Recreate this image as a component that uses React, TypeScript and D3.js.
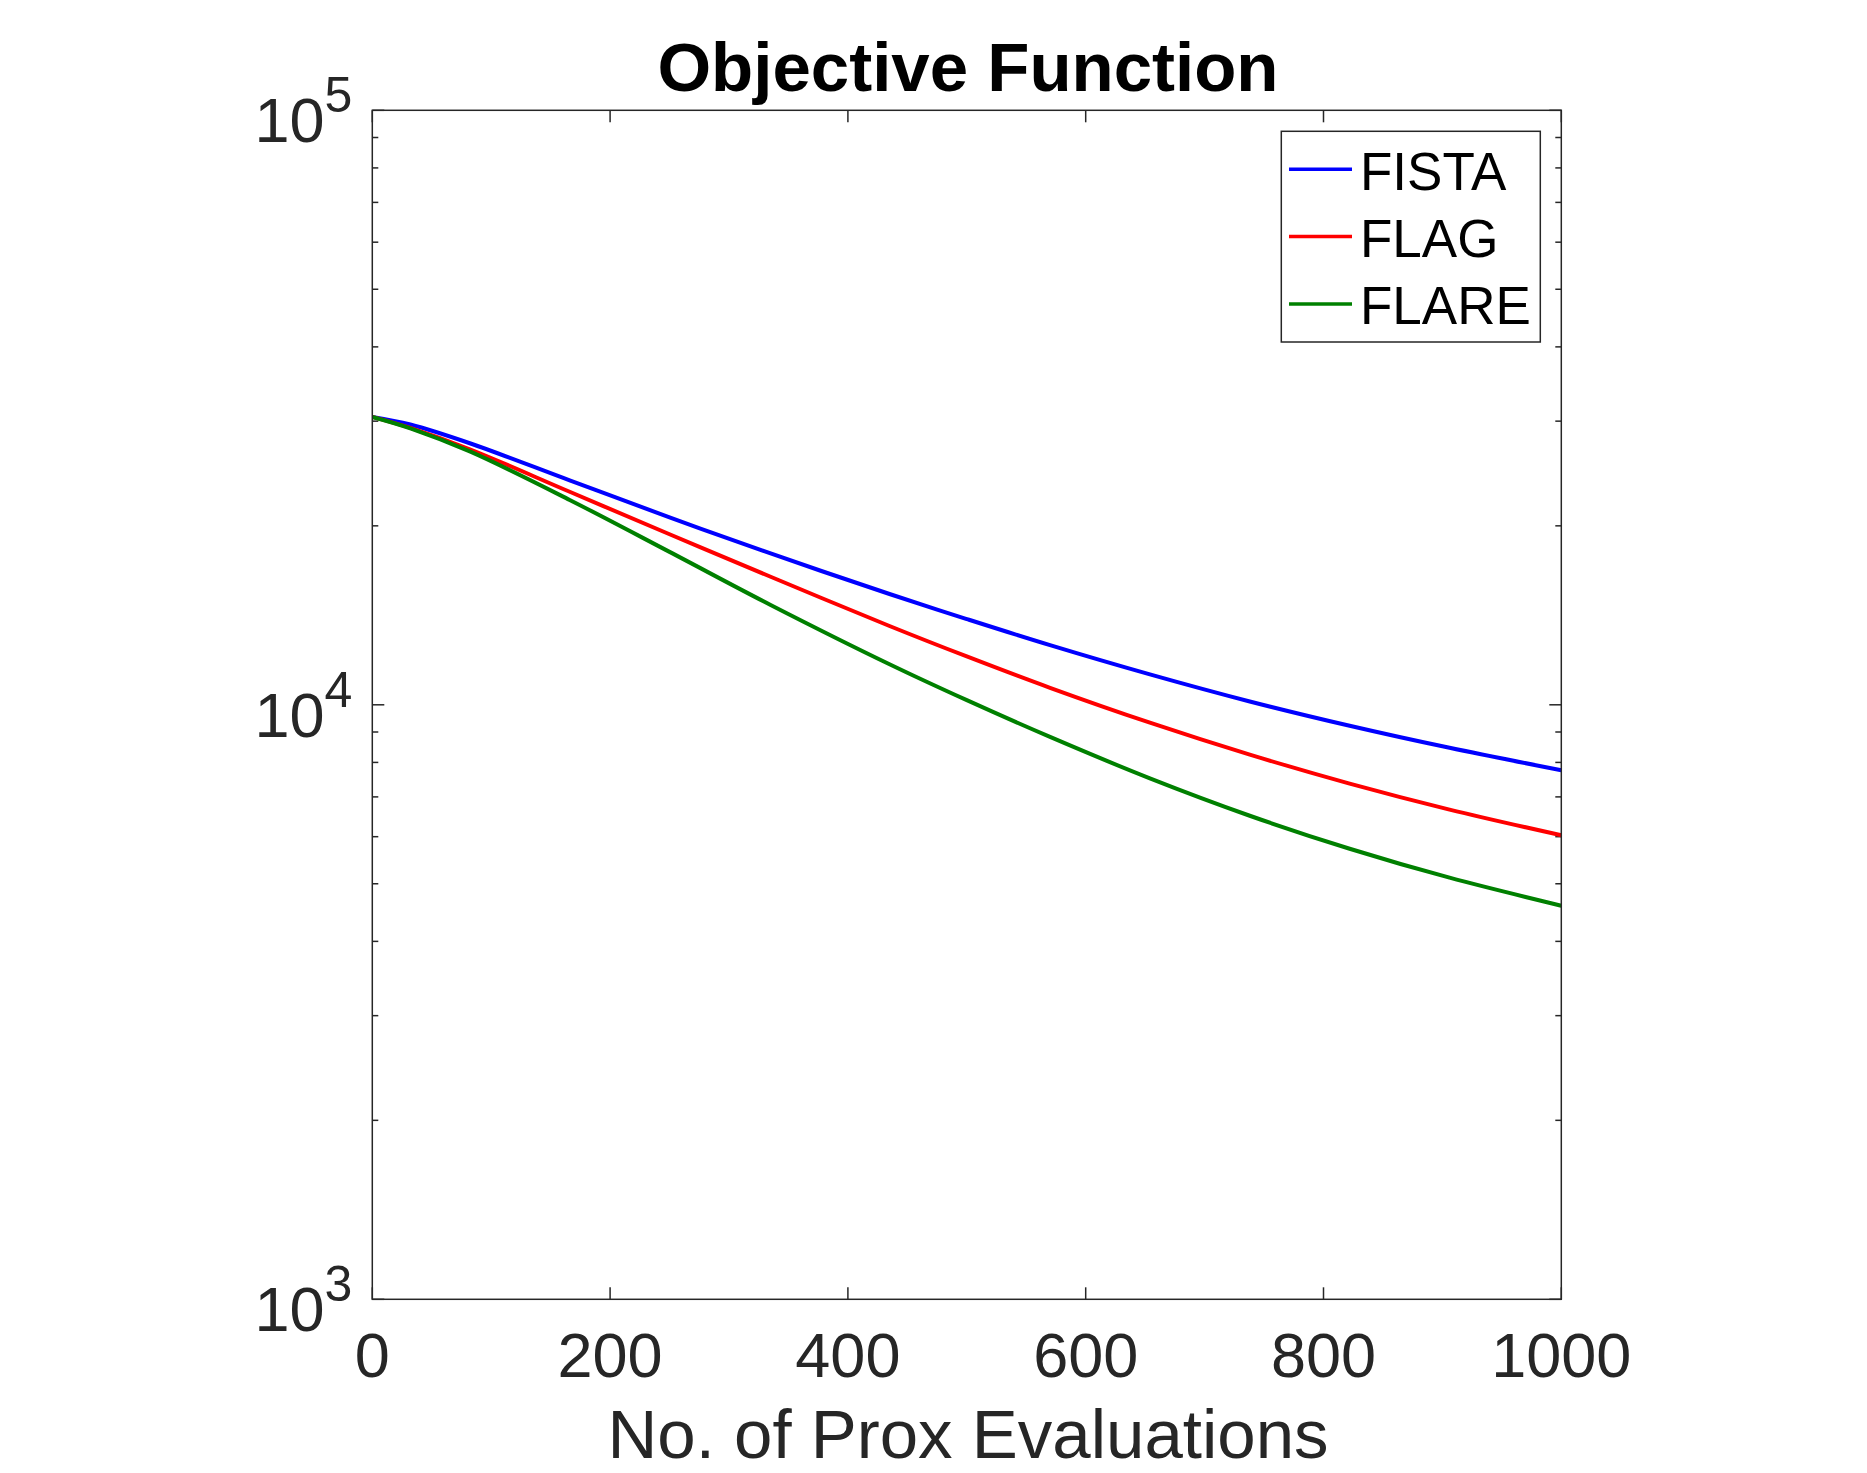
import { useEffect, useRef } from 'react';
import * as d3 from 'd3';

const W = 1867;
const H = 1473;
const [ml, mt] = [372.3, 110.3];
const plotW = 1189;
const plotH = 1189;

const axisColor = '#262626';
const font = '"Liberation Sans", Arial, Helvetica, sans-serif';

// values
const evals = [0, 32, 82, 166, 250, 335, 435, 500, 570, 654, 738, 822, 906, 1000];
const fista = [30500, 29610, 27540, 23850, 20670, 17970, 15360, 13940, 12600, 11250, 10130, 9220, 8465, 7762];
const flag = [30500, 29220, 26900, 22820, 19360, 16420, 13570, 12060, 10680, 9330, 8244, 7369, 6664, 6033];
const flare = [30500, 29180, 26680, 22110, 18080, 14720, 11700, 10180, 8830, 7521, 6507, 5726, 5119, 4593];

const seriesNames = ['FISTA', 'FLAG', 'FLARE'];
const seriesColors = ['#0000ff', '#ff0000', '#008000'];
const seriesValues = [fista, flag, flare];

const xTicks = [0, 200, 400, 600, 800, 1000];
const yMajor = [1e3, 1e4, 1e5];
const yExponents = ['3', '4', '5'];

export default function App() {
    const svgRef = useRef<SVGSVGElement>(null);

    useEffect(() => {
        const svg = d3.select(svgRef.current);
        svg.selectAll('*').remove();

        const x = d3.scaleLinear().domain([0, 1000]).range([0, plotW]);
        const y = d3.scaleLog().domain([1e3, 1e5]).range([plotH, 0]);

        const g = svg.append('g').attr('transform', `translate(${ml}, ${mt})`);

        // minor log ticks 2..9 for each decade
        const yMinor: number[] = [];
        [1e3, 1e4].forEach((d) => {
            for (let k = 2; k <= 9; k++) yMinor.push(d * k);
        });

        const tickGroup = g.append('g').attr('stroke', axisColor).attr('stroke-width', 1.5);
        xTicks.forEach((t) => {
            tickGroup.append('line').attr('x1', x(t)).attr('x2', x(t)).attr('y1', plotH).attr('y2', plotH - 12);
            tickGroup.append('line').attr('x1', x(t)).attr('x2', x(t)).attr('y1', 0).attr('y2', 12);
        });
        yMajor.forEach((t) => {
            tickGroup.append('line').attr('x1', 0).attr('x2', 12).attr('y1', y(t)).attr('y2', y(t));
            tickGroup.append('line').attr('x1', plotW).attr('x2', plotW - 12).attr('y1', y(t)).attr('y2', y(t));
        });
        yMinor.forEach((t) => {
            tickGroup.append('line').attr('x1', 0).attr('x2', 6).attr('y1', y(t)).attr('y2', y(t));
            tickGroup.append('line').attr('x1', plotW).attr('x2', plotW - 6).attr('y1', y(t)).attr('y2', y(t));
        });

        // x tick labels
        g.append('g')
            .selectAll('text')
            .data(xTicks)
            .enter()
            .append('text')
            .attr('x', (d) => x(d))
            .attr('y', plotH + 77.5)
            .attr('text-anchor', 'middle')
            .attr('font-family', font)
            .attr('font-size', 63)
            .attr('fill', axisColor)
            .text((d) => String(d));

        // y tick labels 10^n
        yMajor.forEach((t, i) => {
            const txt = g
                .append('text')
                .attr('x', -20)
                .attr('y', y(t) + 32)
                .attr('text-anchor', 'end')
                .attr('font-family', font)
                .attr('font-size', 63)
                .attr('fill', axisColor);
            txt.append('tspan').text('10');
            txt.append('tspan').attr('dy', -30).attr('font-size', 50).text(yExponents[i]);
        });

        // curves
        const clipId = 'plot-clip';
        svg.append('defs')
            .append('clipPath')
            .attr('id', clipId)
            .append('rect')
            .attr('width', plotW)
            .attr('height', plotH);

        const line = d3
            .line<number>()
            .x((_, i) => x(evals[i]))
            .y((d) => y(d))
            .curve(d3.curveCatmullRom.alpha(0.5));

        const curves = g.append('g').attr('clip-path', `url(#${clipId})`);
        seriesValues.forEach((vals, i) => {
            curves
                .append('path')
                .datum(vals)
                .attr('d', line)
                .attr('fill', 'none')
                .attr('stroke', seriesColors[i])
                .attr('stroke-width', 4);
        });

        // axes box
        g.append('rect')
            .attr('width', plotW)
            .attr('height', plotH)
            .attr('fill', 'none')
            .attr('stroke', axisColor)
            .attr('stroke-width', 1.5);

        // legend
        const lg = svg.append('g');
        lg.append('rect')
            .attr('x', 1281.3)
            .attr('y', 131.3)
            .attr('width', 259)
            .attr('height', 210.7)
            .attr('fill', '#ffffff')
            .attr('stroke', axisColor)
            .attr('stroke-width', 1.5);
        seriesNames.forEach((name, i) => {
            const ry = 169.3 + i * 67.3;
            lg.append('line')
                .attr('x1', 1289)
                .attr('x2', 1352)
                .attr('y1', ry)
                .attr('y2', ry)
                .attr('stroke', seriesColors[i])
                .attr('stroke-width', 3.5);
            lg.append('text')
                .attr('x', 1360)
                .attr('y', ry + 20.5)
                .attr('font-family', font)
                .attr('font-size', 53)
                .attr('fill', '#000000')
                .text(name);
        });

        // title and x label
        svg.append('text')
            .attr('x', 968)
            .attr('y', 91)
            .attr('text-anchor', 'middle')
            .attr('font-family', font)
            .attr('font-size', 69)
            .attr('font-weight', 'bold')
            .attr('fill', '#000000')
            .text('Objective Function');

        svg.append('text')
            .attr('x', 968)
            .attr('y', 1458)
            .attr('text-anchor', 'middle')
            .attr('font-family', font)
            .attr('font-size', 69)
            .attr('fill', axisColor)
            .text('No. of Prox Evaluations');
    }, []);

    return (
        <div style={{ position: 'absolute', left: 0, top: 0, width: W, height: H, background: '#ffffff' }}>
            <svg ref={svgRef} width={W} height={H} />
        </div>
    );
}
